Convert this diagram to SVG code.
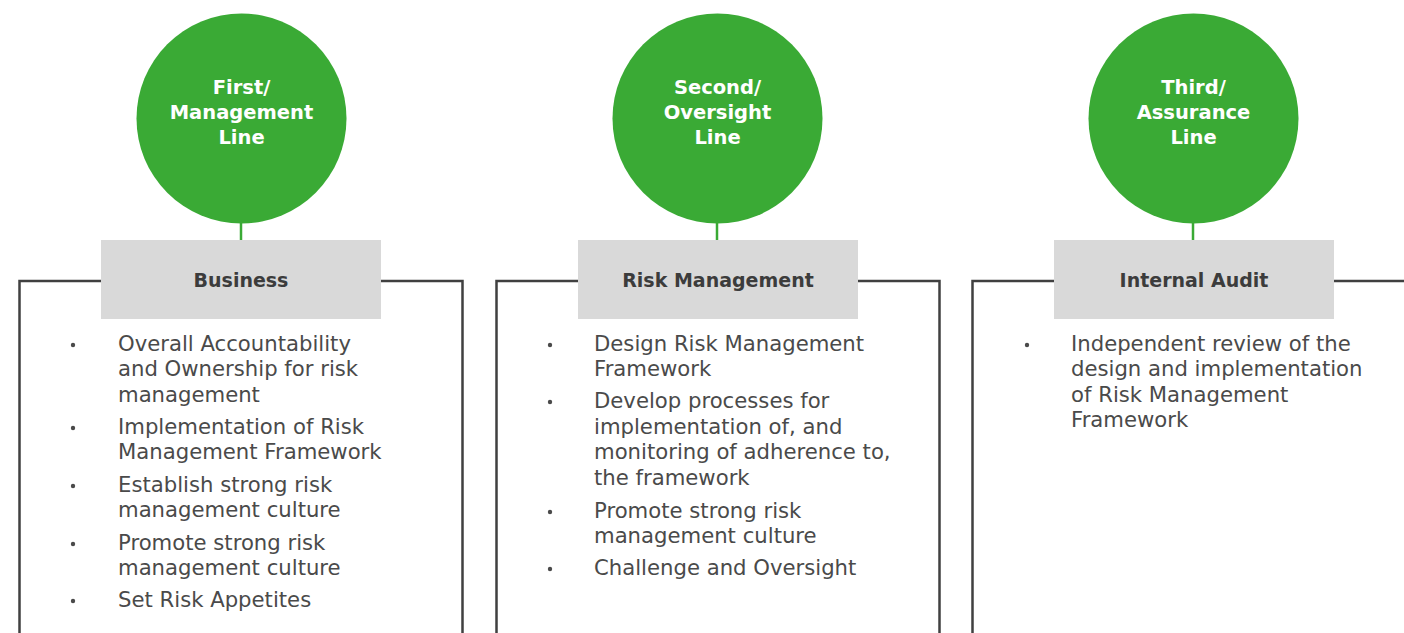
<svg xmlns="http://www.w3.org/2000/svg" width="1404" height="633" viewBox="0 0 1404 633">
  <style>
    .circle { fill: #3aaa35; }
    .stem { stroke: #3aaa35; stroke-width: 2.5; }
    .frame { fill: none; stroke: #404040; stroke-width: 2.5; }
    .header { fill: #d9d9d9; }
    .ctext { font-family: "DejaVu Sans", "Liberation Sans", sans-serif; font-weight: bold; font-size: 19.5px; fill: #ffffff; text-anchor: middle; }
    .htext { font-family: "DejaVu Sans", "Liberation Sans", sans-serif; font-weight: bold; font-size: 19px; fill: #3c3c3c; text-anchor: middle; }
    .btext { font-family: "DejaVu Sans", "Liberation Sans", sans-serif; font-size: 21.2px; fill: #4a4a4a; }
    .dot { fill: #4a4a4a; }
  </style>

  <!-- connectors: circle stems and bracket frames -->
  <g id="connectors">
    <line class="stem" x1="241" y1="222" x2="241" y2="241"/>
    <line class="stem" x1="717" y1="222" x2="717" y2="241"/>
    <line class="stem" x1="1193" y1="222" x2="1193" y2="241"/>
    <path class="frame" d="M101 281 H19.5 V640 M381 281 H462.5 V640"/>
    <path class="frame" d="M578 281 H496.5 V640 M858 281 H939.5 V640"/>
    <path class="frame" d="M1054 281 H972.5 V640 M1334 281 H1410"/>
  </g>

  <!-- first line -->
  <g id="line-first">
    <circle class="circle" cx="241.5" cy="118.5" r="105"/>
    <text class="ctext" x="241.5" y="94">First/</text>
    <text class="ctext" x="241.5" y="119">Management</text>
    <text class="ctext" x="241.5" y="144">Line</text>
  </g>
  <g id="box-business">
    <rect class="header" x="101" y="240" width="280" height="79"/>
    <text class="htext" x="241" y="287">Business</text>
    <circle class="dot" cx="73" cy="345" r="2.2"/>
    <circle class="dot" cx="73" cy="428" r="2.2"/>
    <circle class="dot" cx="73" cy="486" r="2.2"/>
    <circle class="dot" cx="73" cy="544" r="2.2"/>
    <circle class="dot" cx="73" cy="601" r="2.2"/>
    <text class="btext" x="118" y="351">Overall Accountability</text>
    <text class="btext" x="118" y="376">and Ownership for risk</text>
    <text class="btext" x="118" y="402">management</text>
    <text class="btext" x="118" y="434">Implementation of Risk</text>
    <text class="btext" x="118" y="459">Management Framework</text>
    <text class="btext" x="118" y="492">Establish strong risk</text>
    <text class="btext" x="118" y="517">management culture</text>
    <text class="btext" x="118" y="550">Promote strong risk</text>
    <text class="btext" x="118" y="575">management culture</text>
    <text class="btext" x="118" y="607">Set Risk Appetites</text>
  </g>

  <!-- second line -->
  <g id="line-second">
    <circle class="circle" cx="717.5" cy="118.5" r="105"/>
    <text class="ctext" x="717.5" y="94">Second/</text>
    <text class="ctext" x="717.5" y="119">Oversight</text>
    <text class="ctext" x="717.5" y="144">Line</text>
  </g>
  <g id="box-risk">
    <rect class="header" x="578" y="240" width="280" height="79"/>
    <text class="htext" x="718" y="287">Risk Management</text>
    <circle class="dot" cx="550" cy="345" r="2.2"/>
    <circle class="dot" cx="550" cy="402" r="2.2"/>
    <circle class="dot" cx="550" cy="512" r="2.2"/>
    <circle class="dot" cx="550" cy="569" r="2.2"/>
    <text class="btext" x="594" y="351">Design Risk Management</text>
    <text class="btext" x="594" y="376">Framework</text>
    <text class="btext" x="594" y="408">Develop processes for</text>
    <text class="btext" x="594" y="434">implementation of, and</text>
    <text class="btext" x="594" y="459">monitoring of adherence to,</text>
    <text class="btext" x="594" y="485">the framework</text>
    <text class="btext" x="594" y="518">Promote strong risk</text>
    <text class="btext" x="594" y="543">management culture</text>
    <text class="btext" x="594" y="575">Challenge and Oversight</text>
  </g>

  <!-- third line -->
  <g id="line-third">
    <circle class="circle" cx="1193.5" cy="118.5" r="105"/>
    <text class="ctext" x="1193.5" y="94">Third/</text>
    <text class="ctext" x="1193.5" y="119">Assurance</text>
    <text class="ctext" x="1193.5" y="144">Line</text>
  </g>
  <g id="box-audit">
    <rect class="header" x="1054" y="240" width="280" height="79"/>
    <text class="htext" x="1194" y="287">Internal Audit</text>
    <circle class="dot" cx="1027" cy="345" r="2.2"/>
    <text class="btext" x="1071" y="351">Independent review of the</text>
    <text class="btext" x="1071" y="376">design and implementation</text>
    <text class="btext" x="1071" y="402">of Risk Management</text>
    <text class="btext" x="1071" y="427">Framework</text>
  </g>
</svg>
